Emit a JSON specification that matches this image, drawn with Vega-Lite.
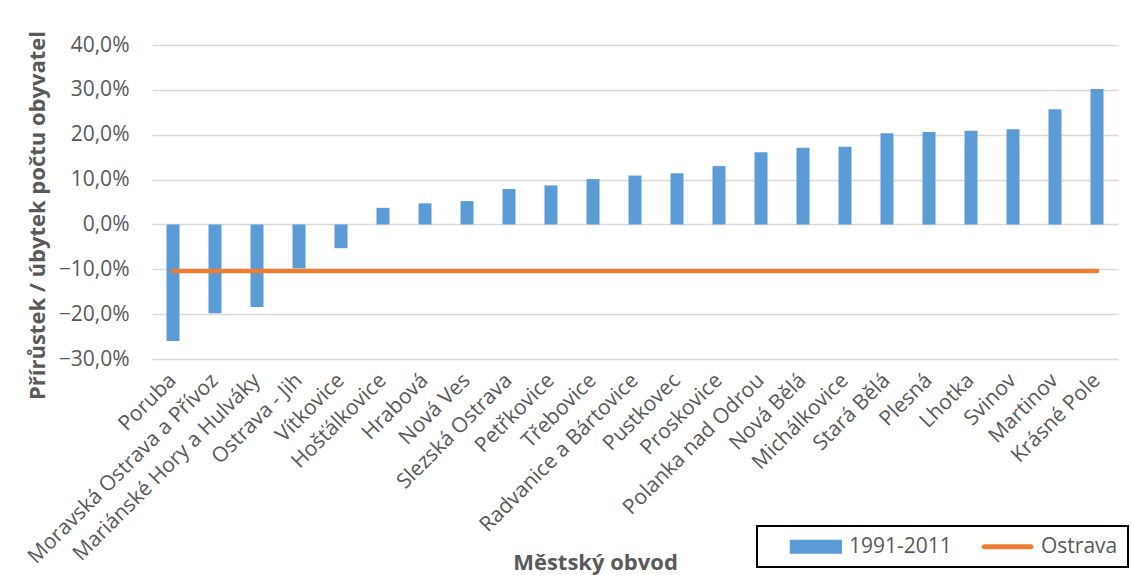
{
  "$schema": "https://vega.github.io/schema/vega-lite/v6.json",
  "width": 966,
  "height": 314,
  "autosize": {"type": "none"},
  "padding": {"left": 152, "top": 45, "right": 13, "bottom": 216},
  "background": "white",
  "config": {"font": "Open Sans", "view": {"stroke": null}},
  "data": {
    "values": [
      {"obvod": "Poruba", "value": -0.260, "ostrava": -0.104},
      {"obvod": "Moravská Ostrava a Přívoz", "value": -0.198, "ostrava": -0.104},
      {"obvod": "Mariánské Hory a Hulváky", "value": -0.184, "ostrava": -0.104},
      {"obvod": "Ostrava - Jih", "value": -0.098, "ostrava": -0.104},
      {"obvod": "Vítkovice", "value": -0.053, "ostrava": -0.104},
      {"obvod": "Hošťálkovice", "value": 0.037, "ostrava": -0.104},
      {"obvod": "Hrabová", "value": 0.047, "ostrava": -0.104},
      {"obvod": "Nová Ves", "value": 0.052, "ostrava": -0.104},
      {"obvod": "Slezská Ostrava", "value": 0.079, "ostrava": -0.104},
      {"obvod": "Petřkovice", "value": 0.087, "ostrava": -0.104},
      {"obvod": "Třebovice", "value": 0.101, "ostrava": -0.104},
      {"obvod": "Radvanice a Bártovice", "value": 0.109, "ostrava": -0.104},
      {"obvod": "Pustkovec", "value": 0.114, "ostrava": -0.104},
      {"obvod": "Proskovice", "value": 0.130, "ostrava": -0.104},
      {"obvod": "Polanka nad Odrou", "value": 0.161, "ostrava": -0.104},
      {"obvod": "Nová Bělá", "value": 0.171, "ostrava": -0.104},
      {"obvod": "Michálkovice", "value": 0.173, "ostrava": -0.104},
      {"obvod": "Stará Bělá", "value": 0.203, "ostrava": -0.104},
      {"obvod": "Plesná", "value": 0.206, "ostrava": -0.104},
      {"obvod": "Lhotka", "value": 0.209, "ostrava": -0.104},
      {"obvod": "Svinov", "value": 0.212, "ostrava": -0.104},
      {"obvod": "Martinov", "value": 0.257, "ostrava": -0.104},
      {"obvod": "Krásné Pole", "value": 0.302, "ostrava": -0.104}
    ]
  },
  "layer": [
    {
      "mark": {"type": "bar", "size": 13},
      "encoding": {
        "x": {
          "field": "obvod", "type": "nominal", "sort": null,
          "scale": {"paddingInner": 0, "paddingOuter": 0},
          "axis": {
            "grid": false, "domain": false, "ticks": false,
            "labelAngle": -45, "labelAlign": "right", "labelBaseline": "middle",
            "labelFontSize": 21, "labelColor": "#595959", "labelPadding": 18, "labelLimit": 400,
            "title": "Městský obvod", "titleFontSize": 22, "titleFontWeight": "bold", "titleColor": "#595959",
            "titleX": 443, "titleY": 203, "titleBaseline": "middle", "titleAlign": "center"
          }
        },
        "y": {
          "field": "value", "type": "quantitative",
          "scale": {"domain": [-0.3, 0.4], "nice": false},
          "axis": {
            "values": [-0.3, -0.2, -0.1, 0, 0.1, 0.2, 0.3, 0.4],
            "labelExpr": "replace(format(datum.value, '.1%'), '.', ',')",
            "grid": true, "gridColor": "#D9D9D9", "gridWidth": 1.5,
            "domain": false, "ticks": false,
            "labelFontSize": 21, "labelColor": "#595959", "labelPadding": 23,
            "title": "Přírůstek / úbytek počtu obyvatel", "titleFontSize": 22, "titleFontWeight": "bold", "titleColor": "#595959",
            "titleX": -115, "titleY": 170, "titleAngle": -90, "titleBaseline": "middle", "titleAlign": "center"
          }
        },
        "color": {
          "datum": "1991-2011",
          "scale": {"domain": ["1991-2011", "Ostrava"], "range": ["#5B9BD5", "#ED7D31"]},
          "legend": {
            "orient": "none", "legendX": 605, "legendY": 481, "direction": "horizontal",
            "title": null, "strokeColor": "#000000", "padding": 10,
            "labelFontSize": 21, "labelColor": "#595959", "labelOffset": 61, "columnPadding": 7,
            "symbolSize": 196, "symbolStrokeWidth": 0,
            "encode": {
              "legend": {"update": {"strokeWidth": {"value": 2}}},
              "symbols": {
                "update": {
                  "shape": {"signal": "datum.value === 'Ostrava' ? 'M2.1,-0.36H8.8A0.36,0.36 0 0 1 8.8,0.36H2.1A0.36,0.36 0 0 1 2.1,-0.36Z' : 'M1.75,-1H9.2V1H1.75Z'"},
                  "fill": {"signal": "datum.value === 'Ostrava' ? '#ED7D31' : '#5B9BD5'"},
                  "opacity": {"value": 1},
                  "fillOpacity": {"value": 1},
                  "strokeWidth": {"value": 0}
                }
              }
            }
          }
        }
      }
    },
    {
      "mark": {"type": "line", "strokeWidth": 4.5, "strokeCap": "round"},
      "encoding": {
        "x": {"field": "obvod", "type": "nominal", "sort": null},
        "y": {"field": "ostrava", "type": "quantitative"},
        "color": {"datum": "Ostrava"}
      }
    }
  ]
}
